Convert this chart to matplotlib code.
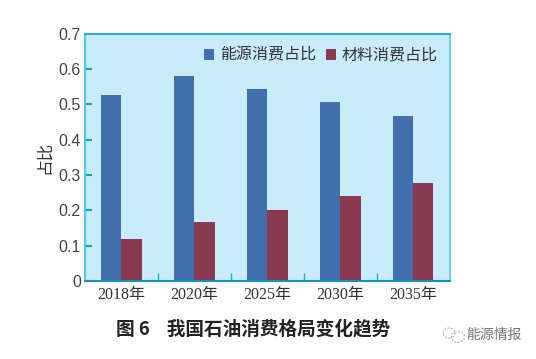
import numpy as np
import matplotlib
matplotlib.use('Agg')
import matplotlib.pyplot as plt
from matplotlib.patches import Ellipse

plt.rcParams['font.family'] = ['Noto Sans CJK SC', 'DejaVu Sans']

years = ['2018年', '2020年', '2025年', '2030年', '2035年']
energy = [0.526, 0.580, 0.543, 0.507, 0.467]
material = [0.119, 0.166, 0.202, 0.240, 0.276]
yticks = [0, 0.1, 0.2, 0.3, 0.4, 0.5, 0.6, 0.7]
ylabels = ['0', '0.1', '0.2', '0.3', '0.4', '0.5', '0.6', '0.7']

W, H = 536, 359
fig = plt.figure(figsize=(W / 100, H / 100), dpi=100)
ax = fig.add_axes([85 / W, 1 - 281 / H, 364.5 / W, 247.5 / H])
ax.set_facecolor('#c9ecfc')

x = np.arange(len(years))
w = 0.28
ax.bar(x - w / 2, energy, w, color='#416fb0', label='能源消费占比')
ax.bar(x + w / 2, material, w, color='#8a3a50', label='材料消费占比')

ax.set_xlim(-0.5, 4.5)
ax.set_ylim(0, 0.7)
ax.set_yticks(yticks)
ax.set_yticklabels(ylabels, fontsize=11.5, color='#444444', family=['Liberation Sans'])
ax.set_xticks(x)
ax.set_xticklabels(years, fontsize=11.5, color='#333333',
                   family=['Liberation Serif', 'Noto Sans CJK SC'])
ax.set_xticks(x[:-1] + 0.5, minor=True)
ax.tick_params(axis='x', which='major', length=0, pad=4)
ax.tick_params(axis='x', which='minor', direction='in', length=6, width=1, color='#2aa5c8')
ax.tick_params(axis='y', direction='in', length=5, width=1.5, color='#1a9cc8', pad=3)
ax.set_ylabel('占比', fontsize=12, color='#333333', labelpad=4)

ax.spines['top'].set_color('#2ab0c8')
ax.spines['top'].set_linewidth(1.5)
ax.spines['left'].set_color('#55c8e8')
ax.spines['left'].set_linewidth(1.5)
ax.spines['right'].set_color('#55c8e8')
ax.spines['right'].set_linewidth(1.2)
ax.spines['bottom'].set_color('#1a90c0')
ax.spines['bottom'].set_linewidth(1.5)

ax.legend(loc='upper right', ncol=2, frameon=False, fontsize=11.5, labelcolor='#333333',
          handlelength=0.65, handleheight=0.65, handletextpad=0.35, columnspacing=0.6,
          borderaxespad=0, bbox_to_anchor=(0.985, 0.972), labelspacing=0)

fig.text(253 / W, 1 - 329 / H, '图 6    我国石油消费格局变化趋势', fontsize=13.4, fontweight='bold',
         color='#222222', ha='center', va='center')
fig.text(494 / W, 1 - 335 / H, '能源情报', fontsize=10, color='#777777', ha='center', va='center')

# watermark icon
for cx, cy, ew, eh in [(449, 333, 12, 10), (458, 337, 13, 11)]:
    fig.add_artist(Ellipse((cx / W, 1 - cy / H), ew / W, eh / H, transform=fig.transFigure,
                           fill=False, ec='#aaaaaa', lw=0.7, ls=(0, (2, 1.5))))

fig.savefig('out.png', dpi=100)
